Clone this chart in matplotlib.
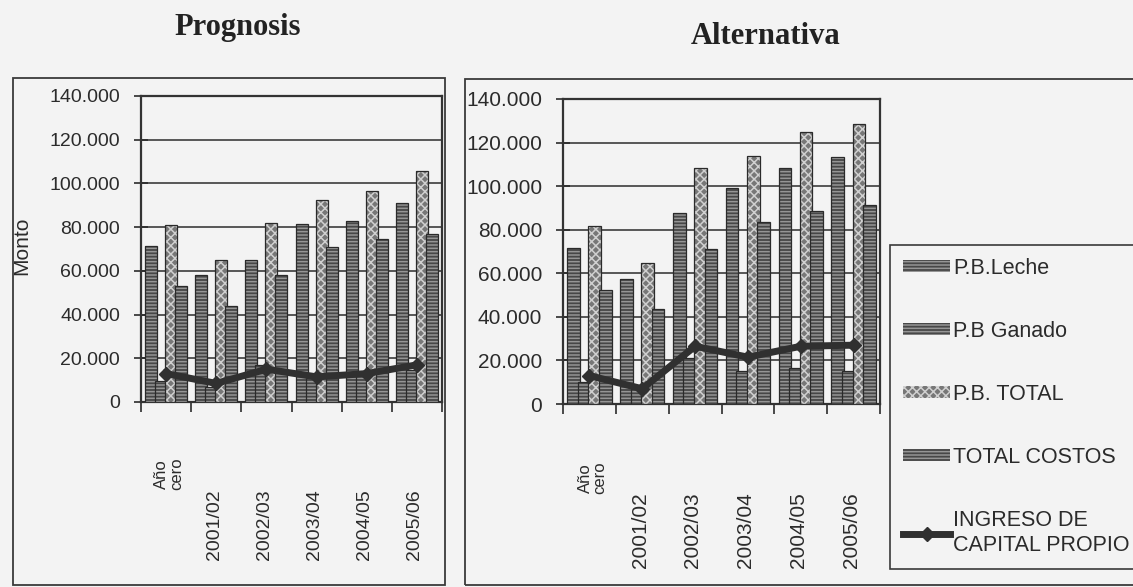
import matplotlib
matplotlib.use("Agg")
import matplotlib.pyplot as plt
import matplotlib.transforms as mtransforms
from matplotlib.patches import Rectangle
from matplotlib.ticker import FuncFormatter, MultipleLocator
import numpy as np

# ---- data -------------------------------------------------------------
categories = ["Año\ncero", "2001/02", "2002/03", "2003/04", "2004/05", "2005/06"]

series_names = ["P.B.Leche", "P.B Ganado", "P.B. TOTAL", "TOTAL COSTOS"]
line_name = "INGRESO DE\nCAPITAL PROPIO"

prog_leche = [71500, 58000, 65000, 81500, 83000, 91000]
prog_ganado = [9500, 7000, 17000, 11000, 13500, 14500]
prog_total = [81000, 65000, 82000, 92500, 96500, 105500]
prog_costos = [53000, 44000, 58000, 71000, 74500, 77000]
prog_ingreso = [13000, 8500, 15000, 11500, 13000, 17000]

alt_leche = [71500, 57500, 87500, 99000, 108500, 113500]
alt_ganado = [10000, 7000, 21000, 15000, 16500, 15000]
alt_total = [81500, 64500, 108500, 114000, 125000, 128500]
alt_costos = [52500, 43500, 71000, 83500, 88500, 91500]
alt_ingreso = [13000, 7000, 26500, 21500, 26500, 27000]

# ---- styling ----------------------------------------------------------
W, H = 1133, 587
PAPER = "#f3f3f3"
INK = "#2b2b2b"
plt.rcParams["font.family"] = ["Liberation Sans", "DejaVu Sans"]
plt.rcParams["hatch.linewidth"] = 1.1

bar_styles = [
    dict(face="#474747", hatch="-----", hcol="#959595"),
    dict(face="#474747", hatch="-----", hcol="#959595"),
    dict(face="#777777", hatch="xxxx", hcol="#d0d0d0"),
    dict(face="#474747", hatch="-----", hcol="#959595"),
]

fig = plt.figure(figsize=(W / 100, H / 100), dpi=100, facecolor=PAPER)


def px_rect(x0, y0, x1, y1):
    """figure-fraction rect from pixel box (top-left origin)"""
    return [x0 / W, 1 - y1 / H, (x1 - x0) / W, (y1 - y0) / H]


def fmt_thousands(v, _pos):
    return f"{int(round(v)):,}".replace(",", ".")


def draw_panel(rect, series, ingreso, tick_fs, label_y, cero_y):
    ax = fig.add_axes(rect)
    ax.set_facecolor(PAPER)
    n = len(categories)
    x = np.arange(n) + 0.5
    step, width = 0.2, 0.24
    offsets = (np.arange(4) - 1.5) * step
    handles = []
    for vals, off, st, name in zip(series, offsets, bar_styles, series_names):
        h = ax.bar(x + off, vals, width, color=st["face"], hatch=st["hatch"],
                   edgecolor=st["hcol"], linewidth=0, zorder=3, label=name)
        ax.bar(x + off, vals, width, fill=False, edgecolor="#2a2a2a",
               linewidth=0.9, zorder=3)
        handles.append(h)
    ln, = ax.plot(x, ingreso, color="#303030", lw=5, marker="D",
                  markersize=7, zorder=5, label=line_name)
    handles.append(ln)

    ax.set_xlim(0, n)
    ax.set_ylim(0, 140000)
    ax.yaxis.set_major_locator(MultipleLocator(20000))
    ax.yaxis.set_major_formatter(FuncFormatter(fmt_thousands))
    ax.yaxis.grid(True, color="#4a4a4a", lw=1.3, zorder=1)
    ax.set_xticks(np.arange(n + 1))
    ax.set_xticklabels([])
    ax.tick_params(axis="y", direction="inout", length=10, width=1.2,
                   colors=INK, labelsize=tick_fs, pad=10)
    ax.tick_params(axis="x", direction="out", length=7, width=1.2, colors=INK)
    for s in ax.spines.values():
        s.set_color("#333333")
        s.set_linewidth(1.6)

    # rotated category labels under the axis
    trans = mtransforms.blended_transform_factory(ax.transData, fig.transFigure)
    for xi, lab in zip(x, categories):
        multi = "\n" in lab
        yy = cero_y if multi else label_y
        ax.text(xi + (0.06 if multi else -0.04), 1 - yy / H, lab,
                rotation=90, ha="center", va="center",
                fontsize=12 if multi else tick_fs, color=INK,
                linespacing=0.95, transform=trans, clip_on=False)
    return ax, handles


prog_series = [prog_leche, prog_ganado, prog_total, prog_costos]
alt_series = [alt_leche, alt_ganado, alt_total, alt_costos]

ax1, _ = draw_panel(px_rect(141, 96, 442, 402), prog_series, prog_ingreso,
                    14, 525, 474)
ax2, handles = draw_panel(px_rect(563, 99, 880, 404), alt_series, alt_ingreso,
                          15, 530, 478)

ax1.set_ylabel("Monto", fontsize=15, color=INK)
ax1.yaxis.set_label_coords(31 / W, 1 - 246 / H, transform=fig.transFigure)

# chart titles
fig.text(238 / W, 1 - 27 / H, "Prognosis", family="Liberation Serif",
         weight="bold", fontsize=22, ha="center", va="center", color="#222222")
fig.text(766 / W, 1 - 37 / H, "Alternativa", family="Liberation Serif",
         weight="bold", fontsize=22, ha="center", va="center", color="#222222")

# outer chart frames
for x0, y0, x1, y1 in [(13, 78, 445, 585), (465, 79, 1145, 585)]:
    fig.add_artist(Rectangle((x0 / W, 1 - y1 / H), (x1 - x0) / W, (y1 - y0) / H,
                             transform=fig.transFigure, fill=False,
                             edgecolor="#3a3a3a", lw=1.3))

# legend, running past the right edge
leg = fig.legend(handles=handles, loc="upper left",
                 bbox_to_anchor=(890 / W, 1 - 245 / H),
                 bbox_transform=fig.transFigure, borderaxespad=0,
                 fontsize=15.5, frameon=True, fancybox=False,
                 edgecolor="#3a3a3a", facecolor=PAPER, framealpha=1,
                 handlelength=2.2, handleheight=0.5, handletextpad=0.12,
                 labelspacing=1.95, borderpad=0.6)
leg.get_frame().set_linewidth(1.2)
for t in leg.get_texts():
    t.set_color(INK)
    t.set_linespacing(1.25)

fig.savefig("out.png", dpi=100, facecolor=PAPER)
